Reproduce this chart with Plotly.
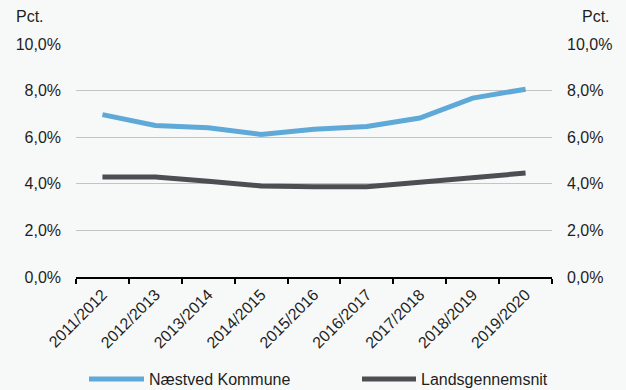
import plotly.graph_objects as go

categories = ["2011/2012", "2012/2013", "2013/2014", "2014/2015", "2015/2016",
              "2016/2017", "2017/2018", "2018/2019", "2019/2020"]
naestved = [6.97, 6.50, 6.41, 6.12, 6.34, 6.46, 6.82, 7.68, 8.06]
lands = [4.29, 4.29, 4.11, 3.91, 3.87, 3.87, 4.07, 4.29, 4.46]
series_names = ["Næstved Kommune", "Landsgennemsnit"]
y_ticks = [0, 2, 4, 6, 8, 10]
y_tick_labels = ["0,0%", "2,0%", "4,0%", "6,0%", "8,0%", "10,0%"]

BLUE = "#5ea9d8"
GREY = "#4d4e53"
BG = "#f7f9f9"
TXT = "#1e1e1e"
FONT = "Liberation Sans, Arial, Helvetica, sans-serif"
FS = 16

fig = go.Figure()
fig.add_trace(go.Scatter(x=categories, y=naestved, mode="lines", name=series_names[0],
                         line=dict(color=BLUE, width=5), showlegend=False))
fig.add_trace(go.Scatter(x=categories, y=lands, mode="lines", name=series_names[1],
                         line=dict(color=GREY, width=5), showlegend=False))
fig.add_trace(go.Scatter(x=categories, y=lands, mode="lines", yaxis="y2",
                         line=dict(color="rgba(0,0,0,0)", width=0), showlegend=False,
                         hoverinfo="skip"))

fig.update_layout(
    width=626, height=390,
    margin=dict(l=76, r=74, t=44, b=113),
    paper_bgcolor=BG, plot_bgcolor=BG,
    font=dict(family=FONT, size=FS, color=TXT),
    xaxis=dict(type="category", tickangle=-45, tickson="boundaries",
               ticks="outside", ticklen=5, tickcolor="#000000", tickwidth=2,
               showline=True, linecolor="#000000", linewidth=2,
               showgrid=False, tickfont=dict(size=FS, family=FONT, color=TXT),
               range=[-0.5, 8.5]),
    yaxis=dict(range=[0, 10], tickmode="array", tickvals=y_ticks, ticktext=y_tick_labels,
               showgrid=True, gridcolor="#c4c4c4", gridwidth=1,
               zeroline=False, showline=False, ticks="", ticklabelstandoff=14,
               tickfont=dict(size=FS, family=FONT, color=TXT)),
    yaxis2=dict(range=[0, 10], tickmode="array", tickvals=y_ticks, ticktext=y_tick_labels,
                overlaying="y", side="right", showgrid=False, zeroline=False,
                showline=False, ticks="", ticklabelstandoff=14,
                tickfont=dict(size=FS, family=FONT, color=TXT)),
)

# "Pct." labels (paper coords: plot area is 476 x 233 px)
fig.add_annotation(text="Pct.", xref="paper", yref="paper", x=(14 - 76) / 476, y=(277 - 16) / 233,
                   xanchor="left", yanchor="middle", showarrow=False,
                   font=dict(size=FS, family=FONT, color=TXT))
fig.add_annotation(text="Pct.", xref="paper", yref="paper", x=(612 - 76) / 476, y=(277 - 16) / 233,
                   xanchor="right", yanchor="middle", showarrow=False,
                   font=dict(size=FS, family=FONT, color=TXT))

# Manual legend
ly = (277 - 379) / 233
for (x0, x1, tx, col, name) in [(89, 144, 147, BLUE, series_names[0]),
                                (362, 416, 419, GREY, series_names[1])]:
    fig.add_shape(type="line", xref="paper", yref="paper",
                  x0=(x0 - 76) / 476, x1=(x1 - 76) / 476, y0=ly, y1=ly,
                  line=dict(color=col, width=5))
    fig.add_annotation(text=name, xref="paper", yref="paper", x=(tx - 76) / 476, y=ly,
                       xanchor="left", yanchor="middle", showarrow=False,
                       font=dict(size=FS, family=FONT, color=TXT))

fig.write_html("out.html", config={"displayModeBar": False},
               post_script="document.body.style.margin='0';document.body.style.padding='0';")
